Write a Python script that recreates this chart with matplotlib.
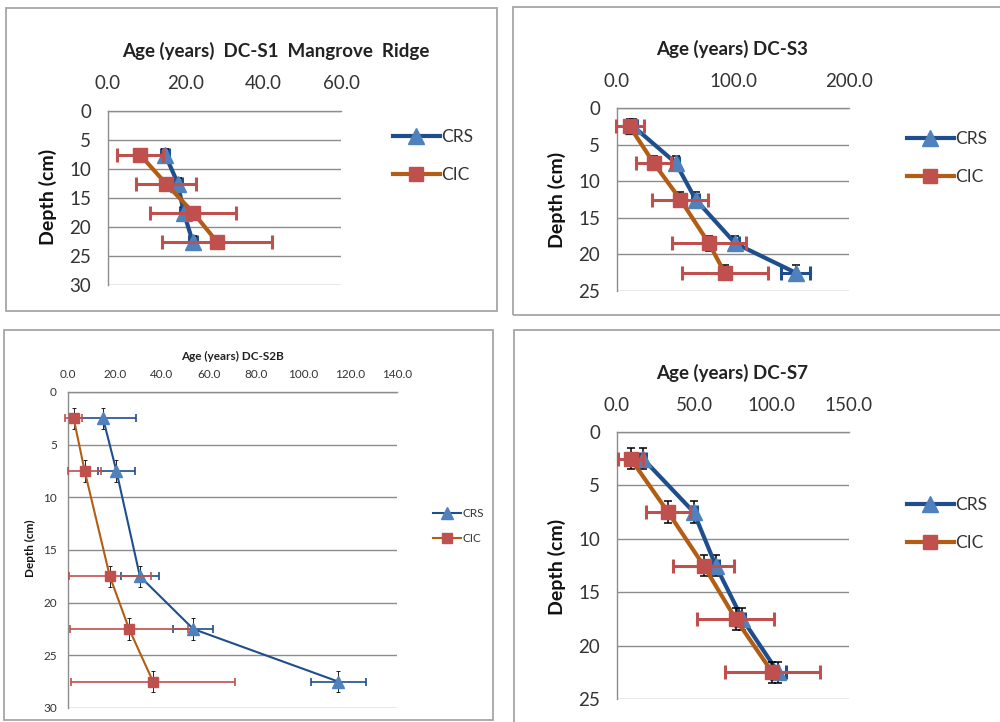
import matplotlib
matplotlib.use("Agg")
import matplotlib.pyplot as plt
from matplotlib.lines import Line2D
from matplotlib.patches import Rectangle

plt.rcParams['font.family'] = ['Lato', 'DejaVu Sans']

W, H = 1000, 722

# ---------------- data ----------------
# DC-S1 Mangrove Ridge
s1_depth = [7.5, 12.5, 17.5, 22.5]
s1_crs = [14.7, 18.0, 19.5, 21.8]
s1_crs_err = [1.0, 1.0, 1.0, 1.0]
s1_cic = [8.2, 14.9, 21.9, 28.0]
s1_cic_err = [6.0, 7.8, 11.0, 14.2]

# DC-S3
s3_depth = [2.5, 7.5, 12.5, 18.5, 22.5]
s3_crs = [14.0, 50.6, 67.8, 102.0, 154.0]
s3_crs_err = [3.0, 3.0, 3.0, 3.0, 12.5]
s3_cic = [10.9, 31.6, 54.6, 79.3, 92.8]
s3_cic_err = [12.0, 15.0, 24.0, 32.0, 37.0]

# DC-S2B
s2b_depth = [2.5, 7.5, 17.5, 22.5, 27.5]
s2b_crs = [14.9, 20.6, 30.6, 53.3, 115.1]
s2b_crs_err = [14.0, 8.0, 8.0, 8.5, 11.5]
s2b_cic = [2.4, 7.1, 17.8, 26.0, 36.2]
s2b_cic_err = [3.5, 7.0, 17.5, 25.0, 35.0]

# DC-S7
s7_depth = [2.5, 7.5, 12.5, 17.5, 22.5]
s7_crs = [16.8, 49.6, 63.8, 81.0, 104.1]
s7_crs_err = [2.0, 2.0, 2.0, 2.0, 5.0]
s7_cic = [8.8, 33.0, 56.0, 76.7, 100.4]
s7_cic_err = [8.0, 14.0, 19.5, 25.0, 30.6]

depth_err = 1.0

series_labels = ["CRS", "CIC"]
titles = ["Age (years)  DC-S1  Mangrove  Ridge", "Age (years) DC-S3",
          "Age (years) DC-S2B", "Age (years) DC-S7"]
ylabel = "Depth (cm)"

# ---------------- styles ----------------
CRS_LINE = '#1f4e8c'
CRS_MARK = '#4f81bd'
CIC_LINE = '#b35c14'
CIC_MARK = '#c0504d'
GRID = '#8c8c8c'
BOX = '#a6a6a6'

fig = plt.figure(figsize=(W / 100, H / 100), dpi=100)
fig.patch.set_facecolor('white')


def fx(x):
    return x / W


def fy(y):
    return 1 - y / H


def add_box(x0, y0, x1, y1):
    fig.add_artist(Rectangle((fx(x0), fy(y1)), fx(x1 - x0), (y1 - y0) / H,
                             transform=fig.transFigure, fill=False,
                             edgecolor=BOX, lw=1.3))


def panel(px, title, title_xy, ylab_xy, leg_xy, depth, crs, crs_err, cic, cic_err,
          xlim, xticks, ylim, fs, fs_title, fs_ylab, fs_leg, lw, ms_sq, ms_tri,
          elw, cap, xpad, ypad, handlelen, labsp):
    x0, y0, x1, y1 = px
    ax = fig.add_axes([fx(x0), fy(y1), fx(x1 - x0), (y1 - y0) / H])
    ax.set_xlim(*xlim)
    ax.set_ylim(ylim, 0)
    ax.set_xticks(xticks)
    ax.set_xticklabels([f"{t:.1f}" for t in xticks])
    ax.set_yticks(list(range(0, ylim + 1, 5)))
    ax.xaxis.tick_top()
    ax.tick_params(axis='x', length=0, pad=xpad, labelsize=fs, colors='#333333')
    ax.tick_params(axis='y', length=0, pad=ypad, labelsize=fs, colors='#333333')
    for sp in ['right', 'bottom']:
        ax.spines[sp].set_visible(False)
    for sp in ['left', 'top']:
        ax.spines[sp].set_color(GRID)
        ax.spines[sp].set_linewidth(1.0)
    ax.yaxis.grid(True, color=GRID, lw=1.0)
    ax.set_axisbelow(True)

    # CRS
    ax.errorbar(crs, depth, xerr=crs_err, fmt='none', ecolor=CRS_LINE,
                elinewidth=elw, capsize=cap, capthick=elw, zorder=3, clip_on=False)
    ax.errorbar(crs, depth, yerr=depth_err, fmt='none', ecolor='black',
                elinewidth=elw * 0.5, capsize=cap * 0.6, capthick=elw * 0.5,
                zorder=3, clip_on=False)
    ax.plot(crs, depth, color=CRS_LINE, lw=lw, zorder=4, clip_on=False)
    ax.plot(crs, depth, ls='none', marker='^', ms=ms_tri, mfc=CRS_MARK,
            mec=CRS_MARK, zorder=5, clip_on=False)
    # CIC
    ax.errorbar(cic, depth, xerr=cic_err, fmt='none', ecolor=CIC_MARK,
                elinewidth=elw, capsize=cap, capthick=elw, zorder=6, clip_on=False)
    ax.errorbar(cic, depth, yerr=depth_err, fmt='none', ecolor='black',
                elinewidth=elw * 0.5, capsize=cap * 0.6, capthick=elw * 0.5,
                zorder=6, clip_on=False)
    ax.plot(cic, depth, color=CIC_LINE, lw=lw, zorder=7, clip_on=False)
    ax.plot(cic, depth, ls='none', marker='s', ms=ms_sq, mfc=CIC_MARK,
            mec=CIC_MARK, zorder=8, clip_on=False)

    fig.text(fx(title_xy[0]), fy(title_xy[1]), title, ha='center', va='center',
             fontsize=fs_title, fontweight='bold', color='#222222')
    fig.text(fx(ylab_xy[0]), fy(ylab_xy[1]), ylabel, ha='center', va='center',
             rotation=90, fontsize=fs_ylab, fontweight='bold', color='#111111')

    h_crs = Line2D([], [], color=CRS_LINE, lw=lw, marker='^', ms=ms_tri,
                   mfc=CRS_MARK, mec=CRS_MARK)
    h_cic = Line2D([], [], color=CIC_LINE, lw=lw, marker='s', ms=ms_sq,
                   mfc=CIC_MARK, mec=CIC_MARK)
    ax.legend([h_crs, h_cic], series_labels, loc='upper left',
              bbox_to_anchor=(fx(leg_xy[0]), fy(leg_xy[1])),
              bbox_transform=fig.transFigure, frameon=False, fontsize=fs_leg,
              handlelength=handlelen, handletextpad=0.1, labelspacing=labsp,
              borderpad=0, borderaxespad=0, labelcolor='#333333')
    return ax


# panel boxes
add_box(6, 8, 497, 311)
add_box(513, 7, 1010, 315)
add_box(4, 330, 493, 720)
add_box(514, 330, 1010, 730)

panel((108, 111, 341, 285), titles[0], (276, 51), (48, 197), (393, 129),
      s1_depth, s1_crs, s1_crs_err, s1_cic, s1_cic_err,
      (0, 60), [0, 20, 40, 60], 30, 13.5, 13.5, 14, 12.5,
      3.0, 10, 11, 2.2, 5, 14, 12, 2.7, 1.25)

panel((617, 108, 849, 291), titles[1], (732, 49), (557, 200), (907, 131),
      s3_depth, s3_crs, s3_crs_err, s3_cic, s3_cic_err,
      (0, 200), [0, 100, 200], 25, 13.5, 13.5, 14, 12.5,
      3.0, 10, 11, 2.2, 5, 13, 12, 2.7, 1.25)

panel((68, 392, 397, 708), titles[2], (232, 356), (30, 548), (433, 508),
      s2b_depth, s2b_crs, s2b_crs_err, s2b_cic, s2b_cic_err,
      (0, 140), [0, 20, 40, 60, 80, 100, 120, 140], 30, 8.5, 8.5, 8.5, 8.5,
      1.5, 7, 8, 1.2, 3, 9, 8, 2.4, 1.2)

panel((617, 432, 849, 699), titles[3], (732, 373), (557, 567), (907, 497),
      s7_depth, s7_crs, s7_crs_err, s7_cic, s7_cic_err,
      (0, 150), [0, 50, 100, 150], 25, 13.5, 13.5, 14, 12.5,
      3.0, 10, 11, 2.2, 5, 13, 12, 2.7, 1.25)

fig.savefig("out.png", dpi=100, facecolor='white')
